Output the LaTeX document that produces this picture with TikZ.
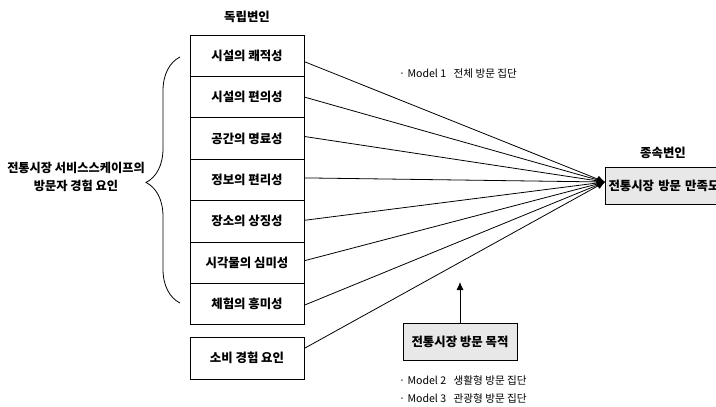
\documentclass[tikz,border=0pt]{standalone}
\usepackage{fontspec}
\setmainfont{Noto Sans CJK KR}
\usetikzlibrary{arrows.meta,decorations.pathreplacing}
\begin{document}
\begin{tikzpicture}[x=1pt,y=-1pt,
  ivbox/.style={draw,line width=1pt,minimum width=114pt,minimum height=41.4pt,inner sep=0pt,font=\fontsize{12.4}{14}\selectfont\bfseries},
  graybox/.style={draw,line width=1pt,fill=gray!18,inner sep=0pt,font=\fontsize{12.4}{14}\selectfont\bfseries},
  conn/.style={line width=0.8pt,-{Latex[length=8pt,width=7pt]}},
  ttl/.style={font=\fontsize{12.4}{14}\selectfont\bfseries},
  mtxt/.style={anchor=west,font=\fontsize{10.6}{12}\selectfont,inner sep=0pt}]
\useasboundingbox (0,0) rectangle (716,407);
\clip (0,0) rectangle (716,407);
\node[ttl] (t1) at (247,17) {독립변인};
\node[ivbox] (b1) at (247,55.7) {시설의 쾌적성};
\node[ivbox] (b2) at (247,97.1) {시설의 편의성};
\node[ivbox] (b3) at (247,138.5) {공간의 명료성};
\node[ivbox] (b4) at (247,179.9) {정보의 편리성};
\node[ivbox] (b5) at (247,221.3) {장소의 상징성};
\node[ivbox] (b6) at (247,262.7) {시각물의 심미성};
\node[ivbox] (b7) at (247,304.1) {체험의 흥미성};
\node[ivbox] (b8) at (247,358.3) {소비 경험 요인};
\node[ttl] (t2) at (663,153) {종속변인};
\node[graybox,anchor=west,minimum width=130pt,minimum height=37pt,text width=130pt,align=left] (dv) at (605,185.5) {\hspace*{3pt}전통시장 방문 만족도};
\coordinate (tip) at (605,182);
\foreach \i/\dy in {1/-6,2/0,3/2,4/2,5/1,6/2,7/-1,8/10} {
  \draw[conn] ([yshift=\dy pt]b\i.east) -- (tip);
}
\node[graybox,minimum width=114pt,minimum height=37pt] (pp) at (460,341.5) {전통시장 방문 목적};
\coordinate (pa) at (460,282);
\draw[conn] (pp.north) -- (pa);
\draw[line width=0.8pt,decorate,decoration={brace,amplitude=34pt,aspect=0.49}] (180,303) -- (180,57);
\node[font=\fontsize{12.2}{18}\selectfont\bfseries,align=center] (lbl) at (76,177) {전통시장 서비스스케이프의\\방문자 경험 요인};
\node[mtxt] (m1) at (399,74) {· Model 1\hspace{5pt} 전체 방문 집단};
\node[mtxt] (m2) at (399,380) {· Model 2\hspace{5pt} 생활형 방문 집단};
\node[mtxt] (m3) at (399,398) {· Model 3\hspace{5pt} 관광형 방문 집단};
\end{tikzpicture}
\end{document}
